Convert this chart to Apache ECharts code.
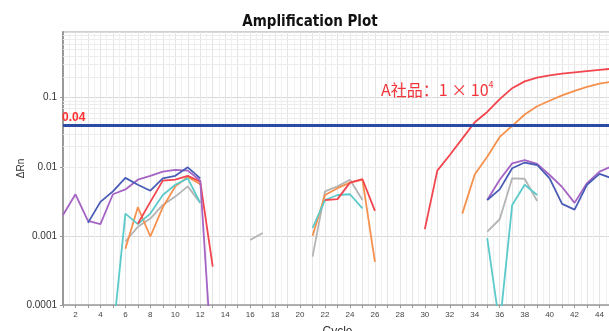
<!DOCTYPE html>
<html><head><meta charset="utf-8">
<script src="https://cdn.jsdelivr.net/npm/echarts@6/dist/echarts.min.js"></script>
<style>html,body{margin:0;padding:0;background:#fff;}#c{width:609px;height:331px;}</style>
</head><body><div id="c"></div>
<script>
const cycles = [1,2,3,4,5,6,7,8,9,10,11,12,13,14,15,16,17,18,19,20,21,22,23,24,25,26,27,28,29,30,31,32,33,34,35,36,37,38,39,40,41,42,43,44,45];
const xTickLabels = ['2','4','6','8','10','12','14','16','18','20','22','24','26','28','30','32','34','36','38','40','42','44'];
const yTickLabels = ['0.0001','0.001','0.01','0.1'];
const threshold = 0.04;
const N = null;
// one value per cycle (1..45); null = no data
const purpleVals = [0.0020,0.0040,0.00165,0.00148,0.0040,0.0047,0.0065,0.0074,0.0085,0.0090,0.0088,0.0063,0.00001,
  N,N,N,N,N,N,N,N,N,N,N,N,N,N,N,N,N,N,N,N,N,
  0.0033,0.0065,0.0112,0.0125,0.0110,0.0076,0.0051,0.0030,0.0058,0.0085,0.0102];
const blueVals = [N,N,0.00154,0.0031,0.0044,0.0069,0.0055,0.0045,0.0068,0.0074,0.0098,0.0068,
  N,N,N,N,N,N,N,N,N,N,N,N,N,N,N,N,N,N,N,N,N,N,
  0.0033,0.0047,0.0095,0.0115,0.0106,0.0068,0.0029,0.0024,0.0055,0.0079,0.0068];
const redVals = [N,N,N,N,N,N,0.0015,0.0031,0.0063,0.0065,0.0074,0.0061,0.00036,
  N,N,N,N,N,N,N,N,
  0.0033,0.0034,0.0059,0.0066,0.0023,
  N,N,N,
  0.00125,0.0088,0.0148,0.0255,0.044,0.062,0.095,0.137,0.172,0.195,0.21,0.222,0.232,0.242,0.252,0.262];
const orangeVals = [N,N,N,N,N,0.00065,0.0026,0.00098,0.0026,0.0052,0.0071,0.0056,
  N,N,N,N,N,N,N,N,
  0.0010,0.0039,0.0049,0.0059,0.0065,0.00042,
  N,N,N,N,N,N,
  0.0021,0.0077,0.014,0.027,0.039,0.057,0.075,0.09,0.108,0.125,0.143,0.16,0.17];
const cyanVals = [N,N,N,N,0.000036,0.0021,0.00148,0.0021,0.0039,0.0055,0.0068,0.0030,
  N,N,N,N,N,N,N,N,
  0.0013,0.0033,0.0039,0.0040,0.0025,
  N,N,N,N,N,N,N,N,N,
  0.00093,0.00005,0.0028,0.0055,0.0039,
  N,N,N,N,N,N];
const grayVals = [N,N,N,N,N,0.00083,0.00135,0.00178,0.0028,0.0037,0.0052,0.0030,
  N,N,N,0.00087,0.0011,N,N,N,
  0.0005,0.0044,0.0052,0.0065,0.0033,
  N,N,N,N,N,N,N,N,N,
  0.00115,0.00174,0.0068,0.0067,0.0032,
  N,N,N,N,N,N];
const minorY = [0.0002,0.0003,0.0004,0.0005,0.0006,0.0007,0.0008,0.0009,
  0.002,0.003,0.004,0.005,0.006,0.007,0.008,0.009,
  0.02,0.03,0.04,0.05,0.06,0.07,0.08,0.09,
  0.2,0.3,0.4,0.5,0.6,0.7,0.8];

function pairs(vals){ return cycles.map((c,i)=>[c, vals[i]]); }
const colors = {purple:'#a563c4', blue:'#4a5db6', red:'#f2454e', orange:'#f6914d', cyan:'#5ccaca', gray:'#b4b4b4'};
function mk(name, vals, color){
  return {type:'line', name, data:pairs(vals), showSymbol:false, connectNulls:false,
    lineStyle:{color, width:1.8}, itemStyle:{color}, animation:false, z:3};
}
const chart = echarts.init(document.getElementById('c'), null, {renderer:'canvas'});
const series = [
  {type:'line', data:[], silent:true, animation:false, z:1,
   markLine:{silent:true, symbol:'none', animation:false, z:1, label:{show:false},
     lineStyle:{color:'#ececec', width:1, type:'solid'},
     data: minorY.map(v=>({yAxis:v}))}},
  mk('gray', grayVals, colors.gray),
  mk('orange', orangeVals, colors.orange),
  mk('cyan', cyanVals, colors.cyan),
  mk('red', redVals, colors.red),
  mk('purple', purpleVals, colors.purple),
  mk('blue', blueVals, colors.blue),
  {type:'line', data:[], silent:true, animation:false, z:4,
   markLine:{silent:true, symbol:'none', animation:false, z:5,
     lineStyle:{color:'#2b4ba3', width:3, type:'solid'},
     label:{show:true, position:'insideStartTop', formatter: String(threshold), color:'#ff3030',
       fontWeight:'bold', fontSize:12, fontFamily:'Liberation Sans', distance:[-1,1]},
     data:[{yAxis:threshold}]}}
];
chart.setOption({
  backgroundColor:'#fff',
  animation:false,
  title:{text:'Amplification Plot', left:305, top:10, textAlign:'center',
    textStyle:{fontSize:15, fontWeight:'bold', color:'#111', fontFamily:'DejaVu Sans Condensed, DejaVu Sans'}},
  grid:{left:63, top:32, width:549, height:273, containLabel:false, outerBoundsMode:'none'},
  xAxis:{type:'value', min:1, max:45, interval:1,
    name:'Cycle', nameLocation:'middle', nameGap:21, nameMoveOverlap:false,
    nameTextStyle:{fontSize:12, color:'#333', fontFamily:'Liberation Sans'},
    axisLine:{lineStyle:{color:'#999', width:1.5}},
    axisTick:{show:true, length:3, lineStyle:{color:'#999'}},
    axisLabel:{fontSize:8, color:'#444', margin:6, fontFamily:'Liberation Sans',
      formatter:v=> xTickLabels.indexOf(String(v))>=0 ? String(v) : ''},
    splitLine:{show:true, lineStyle:{color:'#e4e4e4', width:1}},
    minorTick:{show:false, splitNumber:2},
    minorSplitLine:{show:true, lineStyle:{color:'#f1f1f1', width:1}}
  },
  yAxis:{type:'log', logBase:10, min:0.0001, max:0.89,
    name:'ΔRn', nameLocation:'middle', nameGap:37, nameMoveOverlap:false,
    nameTextStyle:{fontSize:10, color:'#333', fontFamily:'Liberation Sans'},
    axisLine:{show:true, lineStyle:{color:'#999', width:2}},
    axisTick:{show:true, length:3, lineStyle:{color:'#999'}},
    axisLabel:{fontSize:10, color:'#333', margin:6, fontFamily:'Liberation Sans',
      showMaxLabel:false,
      formatter:v=>{ const l=Math.log10(v); if (Math.abs(l-Math.round(l))>1e-6) return '';
        const s = yTickLabels.find(t=>Math.abs(parseFloat(t)-v)<v*1e-6); return s||''; }},
    splitLine:{show:true, lineStyle:{color:'#d8d8d8', width:1}}
  },
  graphic:[
    {type:'rect', left:63, top:31, shape:{width:560, height:1}, style:{fill:'#cfcfcf'}, z:0, silent:true},
    {type:'text', left:381, top:80, z:10, style:{
      text:'{a|A社品：1 × 10}{s|4}',
      rich:{a:{fontSize:16, fill:'#f0363b', fontFamily:'Noto Sans CJK SC'},
            s:{fontSize:9, fill:'#f0363b', fontFamily:'Noto Sans CJK SC', verticalAlign:'top', padding:[0,0,10,0]}}}}
  ],
  series
});
</script></body></html>
